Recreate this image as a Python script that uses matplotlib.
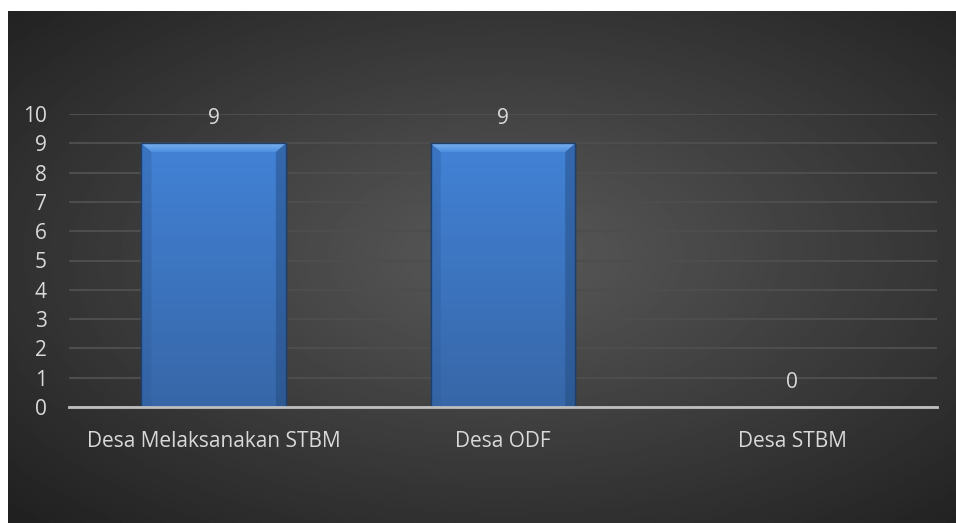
import numpy as np
import matplotlib.pyplot as plt
from matplotlib.patches import Polygon
from matplotlib.colors import LinearSegmentedColormap

categories = ["Desa Melaksanakan STBM", "Desa ODF", "Desa STBM"]
values = [9, 9, 0]
yticks = list(range(0, 11))

plt.rcParams["font.family"] = ["Open Sans", "DejaVu Sans"]
txt = "#d9d9d9"

fig = plt.figure(figsize=(9.56, 5.23), dpi=100)
fig.patch.set_facecolor("white")

# dark radial background of the chart area
bg = fig.add_axes([8 / 956, 0, 1 - 8 / 956, 1 - 11 / 523])
yy, xx = np.mgrid[-1:1:300j, -1:1:500j]
r = np.sqrt(((xx - 0.05) * 0.95) ** 2 + ((yy + 0.05) * 0.95) ** 2)
shade = np.clip(0.35 - 0.16 * r, 0.13, 0.35)
bg.imshow(shade, cmap="gray", vmin=0, vmax=1, aspect="auto",
          extent=[0, 1, 0, 1], interpolation="bilinear")
bg.set_axis_off()

ax = fig.add_axes([69 / 956, 1 - 407 / 523, (937 - 69) / 956, (407 - 114) / 523])
ax.set_facecolor("none")
x = np.arange(len(categories))
bars = ax.bar(x, values, width=0.5, color="#3f7ccc", edgecolor="#1f3f6a",
              linewidth=1.0, zorder=3)

# vertical gradient + bevel on each bar
grad = np.linspace(0, 1, 100).reshape(-1, 1)
cmap = LinearSegmentedColormap.from_list("b", ["#3767a8", "#4282d6"])
bev_cmap = LinearSegmentedColormap.from_list("bv", ["#4f8fdf", "#7ab2f0"])
for b in bars:
    h = b.get_height()
    if h <= 0:
        continue
    x0, w = b.get_x(), b.get_width()
    im = ax.imshow(grad, cmap=cmap, aspect="auto", origin="lower",
                   extent=[x0, x0 + w, 0, h], zorder=3.1)
    im.set_clip_path(b)
    bev = 0.3
    dx = 0.035
    top = Polygon([[x0, h], [x0 + w, h], [x0 + w - dx, h - bev],
                   [x0 + dx, h - bev]], closed=True,
                  facecolor="none", edgecolor="none", zorder=3.2)
    ax.add_patch(top)
    bi = ax.imshow(grad, cmap=bev_cmap, aspect="auto", origin="lower",
                   extent=[x0, x0 + w, h - bev, h], zorder=3.2)
    bi.set_clip_path(top)
    ax.add_patch(Polygon([[x0, h], [x0 + dx, h - bev], [x0 + dx, 0], [x0, 0]],
                         closed=True, facecolor="#2f5d9c", alpha=0.35,
                         edgecolor="none", zorder=3.2))
    ax.add_patch(Polygon([[x0 + w, h], [x0 + w - dx, h - bev],
                          [x0 + w - dx, 0], [x0 + w, 0]],
                         closed=True, facecolor="#23487a", alpha=0.45,
                         edgecolor="none", zorder=3.2))
    ax.add_patch(plt.Rectangle((x0, 0), w, h, fill=False, edgecolor="#1f3f6a",
                               linewidth=1.0, zorder=3.3))

for xi, v in zip(x, values):
    ax.annotate(str(v), (xi, v), xytext=(0, 17.5), textcoords="offset points",
                ha="center", va="center", color=txt, fontsize=15)

ax.set_xlim(-0.5, len(categories) - 0.5)
ax.set_ylim(0, 10)
ax.set_yticks(yticks)
ax.set_yticklabels([str(t) for t in yticks])
ax.set_xticks(x)
ax.set_xticklabels(categories)
ax.tick_params(axis="both", length=0, colors=txt, labelsize=15)
ax.tick_params(axis="y", pad=16)
ax.tick_params(axis="x", pad=17)
ax.yaxis.grid(True, color="#4d4d4d", linewidth=1.5, zorder=0)
ax.set_axisbelow(True)
for s in ["top", "right", "left"]:
    ax.spines[s].set_visible(False)
ax.spines["bottom"].set_color("#bfbfbf")
ax.spines["bottom"].set_linewidth(2)
ax.spines["bottom"].set_zorder(4)

fig.savefig("out.png", dpi=100)
